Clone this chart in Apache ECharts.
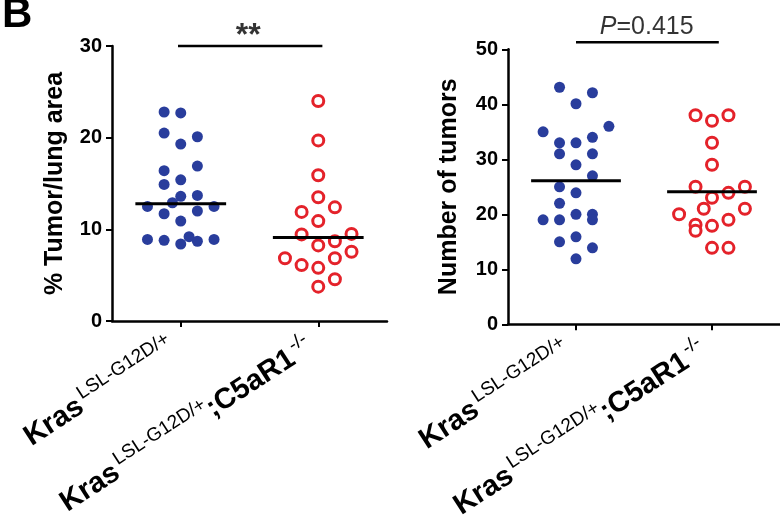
<!DOCTYPE html>
<html><head><meta charset="utf-8">
<script src="https://cdn.jsdelivr.net/npm/echarts@6/dist/echarts.min.js"></script>
<style>html,body{margin:0;padding:0;background:#fff}#c{width:780px;height:529px}</style>
</head><body><div id="c"></div>
<script>
// ---- data ----
const panelLetter = 'B';
const yTitles = ['% Tumor/lung area', 'Number of tumors'];
const groupNames = ['KrasLSL-G12D/+', 'KrasLSL-G12D/+;C5aR1-/-'];
const sigTexts = ['**', 'P=0.415'];

// Panel 1: % tumor / lung area
const areaWT = [22.8, 22.7, 20.5, 20.1, 19.3, 16.4, 16.9, 14.9, 15.4, 13.6, 13.7, 12.9, 12.5, 12.5, 11.7, 12.0, 10.9, 8.9, 8.8, 8.4, 9.2, 8.7, 8.9];
const areaWTSlot = [-1, 0, -1, 1, 0, -1, 1, -1, 0, 0, 1, -0.5, -2, 2, -1, 1, 0, -2, -1, 0, 0.5, 1, 2];
const areaKO = [24.0, 19.7, 15.9, 13.5, 11.9, 12.4, 10.9, 9.45, 9.5, 8.25, 8.7, 7.55, 6.85, 6.85, 6.1, 5.8, 4.55, 3.75];
const areaKOSlot = [0, 0, 0, 0, -1, 1, 0, -1, 2, 0, 1, 2, -2, 1, -1, 0, 1, 0];
const areaCenter = [12.8, 9.1];

// Panel 2: number of tumors
const numWT = [43.1, 42.1, 40.1, 35, 36, 34, 33, 33, 31, 31, 29, 27, 25, 23.9, 22, 20, 20, 19, 19, 19, 15, 15.9, 13.9, 11.9];
const numWTSlot = [-1, 1, 0, -2, 2, 1, -1, 0, -1, 1, 0, 1, -1, 0, -1, 0, 1, -2, -1, 1, -1, 0, 1, 0];
const numKO = [38, 37, 38, 33, 29, 25, 25, 23.9, 23, 21, 21, 20, 18.1, 17, 17.9, 19, 13.9, 13.9];
const numKOSlot = [-1, 0, 1, 0, 0, -1, 2, 1, 0, -0.5, 2, -2, -1, -1, 0, 1, 0, 1];
const numCenter = [26.1, 24.1];

const yMax = [30, 50];
const sigLevel = [30, 51.3];

// ---- styling / layout ----
const FONT = 'Liberation Sans, Arial, Helvetica, sans-serif';
const BLUE = '#293d9c';
const RED = '#e4222a';
const STEP = 0.121;   // horizontal dot spacing in axis units
const HALF = 0.33;    // half width of centre line

function pts(vals, slots, c) { return vals.map((v, i) => [c + slots[i] * STEP, v]); }
function seg(c, v) { return [[c - HALF, v], [c + HALF, v]]; }

const rich = {
  k: { fontFamily: FONT, fontWeight: 'bold', fontSize: 29, color: '#000', verticalAlign: 'bottom', lineHeight: 30 },
  s: { fontFamily: FONT, fontWeight: 'normal', fontSize: 19, color: '#000', verticalAlign: 'bottom', lineHeight: 20, padding: [0, 0, 14, 3] }
};
function catLabel(v) {
  return v === 1 ? '{k|Kras}{s|LSL-G12D/+}' : '{k|Kras}{s|LSL-G12D/+}{k|;C5aR1}{s|-/-}';
}

const grids = [
  { left: 112, top: 46, width: 275, height: 275 },
  { left: 508, top: 49.3, width: 276, height: 275 }
];

function xAxis(i) {
  return {
    gridIndex: i, type: 'value', min: 0.5, max: 2.5,
    axisLine: { show: true, onZero: false, lineStyle: { color: '#000', width: 2.5 } },
    axisTick: { show: true, customValues: [1, 2], length: 6, lineStyle: { color: '#000', width: 2 } },
    axisLabel: { show: true, customValues: [1, 2], rotate: 33, margin: 18, padding: [0, 10, 0, 0], formatter: catLabel, rich: rich },
    splitLine: { show: false }
  };
}
function yAxis(i) {
  return {
    gridIndex: i, type: 'value', min: 0, max: yMax[i], interval: 10,
    name: yTitles[i], nameLocation: 'middle', nameRotate: 90, nameGap: i === 0 ? 44 : 46,
    nameTextStyle: { fontFamily: FONT, fontWeight: 'bold', fontSize: 25, color: '#000' },
    axisLine: { show: true, lineStyle: { color: '#000', width: 2.5 } },
    axisTick: { show: true, length: 6, lineStyle: { color: '#000', width: 2 } },
    axisLabel: { fontFamily: FONT, fontWeight: 'bold', fontSize: 20, color: '#000', margin: 10 },
    splitLine: { show: false }
  };
}

function dots(i, data, filled) {
  return {
    type: 'scatter', xAxisIndex: i, yAxisIndex: i, data: data, symbol: 'circle', symbolSize: 11,
    itemStyle: filled ? { color: BLUE, opacity: 1 } : { color: '#fff', borderColor: RED, borderWidth: 3, opacity: 1 },
    z: 3, silent: true
  };
}
function hline(i, data, w) {
  return {
    type: 'line', xAxisIndex: i, yAxisIndex: i, data: data, symbol: 'none', clip: false,
    lineStyle: { color: '#000', width: w }, z: 4, silent: true
  };
}
function textMark(i, x, y, label) {
  return {
    type: 'scatter', xAxisIndex: i, yAxisIndex: i, data: [[x, y]], symbolSize: 0, clip: false, silent: true,
    label: Object.assign({ show: true, position: 'top', distance: 2, color: '#000' }, label)
  };
}

const series = [
  dots(0, pts(areaWT, areaWTSlot, 1), true),
  dots(0, pts(areaKO, areaKOSlot, 2), false),
  hline(0, seg(1, areaCenter[0]), 3),
  hline(0, seg(2, areaCenter[1]), 3),
  hline(0, [[0.98, sigLevel[0]], [2.03, sigLevel[0]]], 2.5),
  textMark(0, 1.49, sigLevel[0], { formatter: sigTexts[0], fontFamily: FONT, fontWeight: 'bold', fontSize: 32, distance: -6 }),
  dots(1, pts(numWT, numWTSlot, 1), true),
  dots(1, pts(numKO, numKOSlot, 2), false),
  hline(1, seg(1, numCenter[0]), 3),
  hline(1, seg(2, numCenter[1]), 3),
  hline(1, [[1.0, sigLevel[1]], [2.05, sigLevel[1]]], 2.5),
  textMark(1, 1.52, sigLevel[1], { formatter: '{i|P}{n|=0.415}', distance: 3,
    rich: { i: { fontFamily: FONT, fontStyle: 'italic', fontSize: 25, color: '#000' },
            n: { fontFamily: FONT, fontSize: 25, color: '#000' } } })
];

const chart = echarts.init(document.getElementById('c'), null, { renderer: 'canvas' });
chart.setOption({
  animation: false,
  backgroundColor: '#fff',
  grid: grids,
  xAxis: [xAxis(0), xAxis(1)],
  yAxis: [yAxis(0), yAxis(1)],
  series: series,
  graphic: [{ type: 'text', left: 2, top: -6, style: { text: panelLetter, fontFamily: FONT, fontWeight: 'bold', fontSize: 42, fill: '#000' } }]
});
</script></body></html>
